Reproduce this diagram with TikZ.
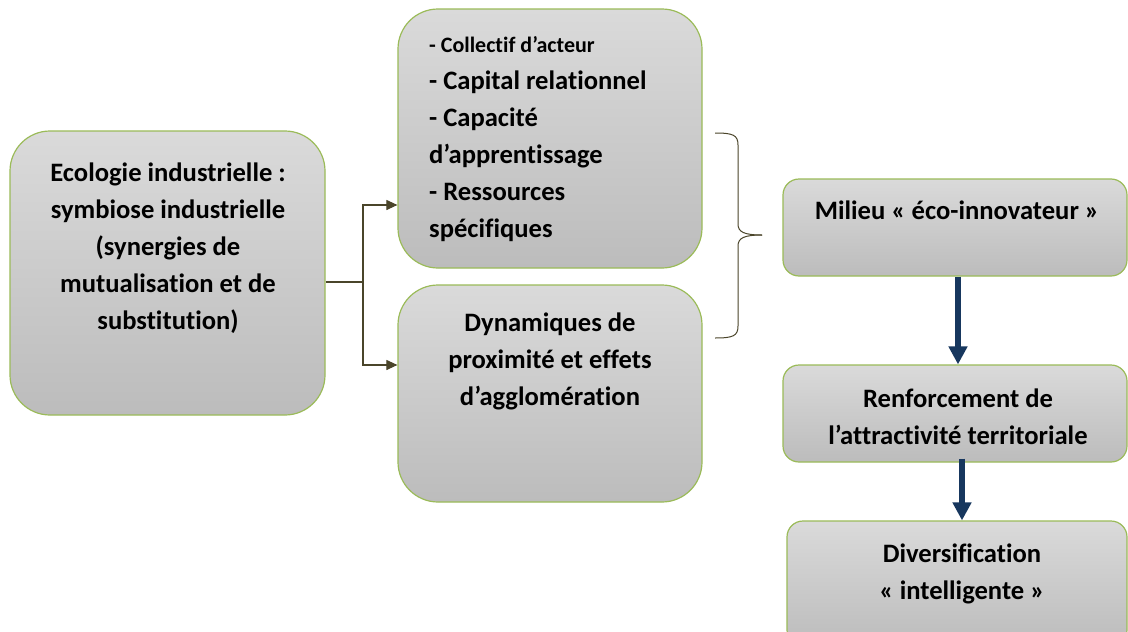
\documentclass[tikz,border=0pt]{standalone}
\usepackage{fontspec}
\setmainfont{Carlito}[Ligatures=NoCommon]
\usetikzlibrary{arrows.meta}
\definecolor{boxtop}{RGB}{218,218,218}
\definecolor{boxbot}{RGB}{188,188,188}
\definecolor{boxedge}{RGB}{155,187,89}
\definecolor{olive}{RGB}{74,69,42}
\definecolor{navy}{RGB}{23,55,94}
\tikzset{
  bigbox/.style={draw=boxedge, line width=1.2pt, rounded corners=40pt, top color=boxtop, bottom color=boxbot, inner sep=0pt},
  smallbox/.style={draw=boxedge, line width=1.2pt, rounded corners=16pt, top color=boxtop, bottom color=boxbot, inner sep=0pt},
  txt/.style={font=\bfseries\fontsize{26.6}{37}\selectfont, inner sep=0pt, text=black},
  feed/.style={draw=olive, line width=1.1pt, -{Triangle[length=11pt,width=10pt]}},
  flow/.style={draw=navy, line width=6pt, -{Triangle[length=18pt,width=18pt]}},
  bracket/.style={draw=olive, line width=1pt}
}
\begin{document}
\begin{tikzpicture}[x=1pt,y=-1pt]
\useasboundingbox (0,0) rectangle (1128,632);
\clip (0,0) rectangle (1128,632);
\fill[white] (0,0) rectangle (1128,632);
% boxes
\node[bigbox, minimum width=315pt, minimum height=284pt] (eco) at (167.5,273) {};
\node[bigbox, minimum width=304pt, minimum height=259pt] (res) at (550,138.5) {};
\node[bigbox, minimum width=304pt, minimum height=217pt] (dyn) at (550,393.5) {};
\node[smallbox, minimum width=344pt, minimum height=97pt] (mil) at (955,227.5) {};
\node[smallbox, minimum width=344pt, minimum height=97pt] (ren) at (955,413.5) {};
\node[smallbox, minimum width=340pt, minimum height=125pt] (div) at (957,583.5) {};
% texts
\node[txt, align=center] (ecot) at (168,248) {Ecologie industrielle :\\symbiose industrielle\\(synergies de\\mutualisation et de\\substitution)};
\node[txt, align=left, anchor=west] (rest) at (429,139.5) {{\fontsize{22}{37}\selectfont - Collectif d’acteur}\\- Capital relationnel\\- Capacité\\d’apprentissage\\- Ressources\\spécifiques};
\node[txt, align=center] (dynt) at (550,361.5) {Dynamiques de\\proximité et effets\\d’agglomération};
\node[txt] (milt) at (957,210) {Milieu « éco-innovateur »};
\node[txt, align=center] (rent) at (958,417) {Renforcement de\\l’attractivité territoriale};
\node[txt, align=center] (divt) at (962,573.5) {Diversification\\« intelligente »};
% connectors
\coordinate (split) at (363,282);
\draw[olive, line width=1.1pt] (eco.east |- split) -- (split);
\draw[feed] (split) |- (res.west |- 0,205);
\draw[feed] (split) |- (dyn.west |- 0,365);
% brace
\coordinate (tip) at (762,235);
\draw[bracket] (715,133) .. controls (733,133) and (738,135) .. (738,145) -- (738,224) .. controls (738,232) and (744,235) .. (tip);
\draw[bracket] (tip) .. controls (744,235) and (738,238) .. (738,246) -- (738,326) .. controls (738,336) and (733,338) .. (715,338);
% flow arrows
\draw[flow] (mil.south -| 958,0) -- (ren.north -| 958,0);
\draw[flow] ([yshift=4pt]ren.south -| 962,0) -- (div.north -| 962,0);
\end{tikzpicture}
\end{document}
